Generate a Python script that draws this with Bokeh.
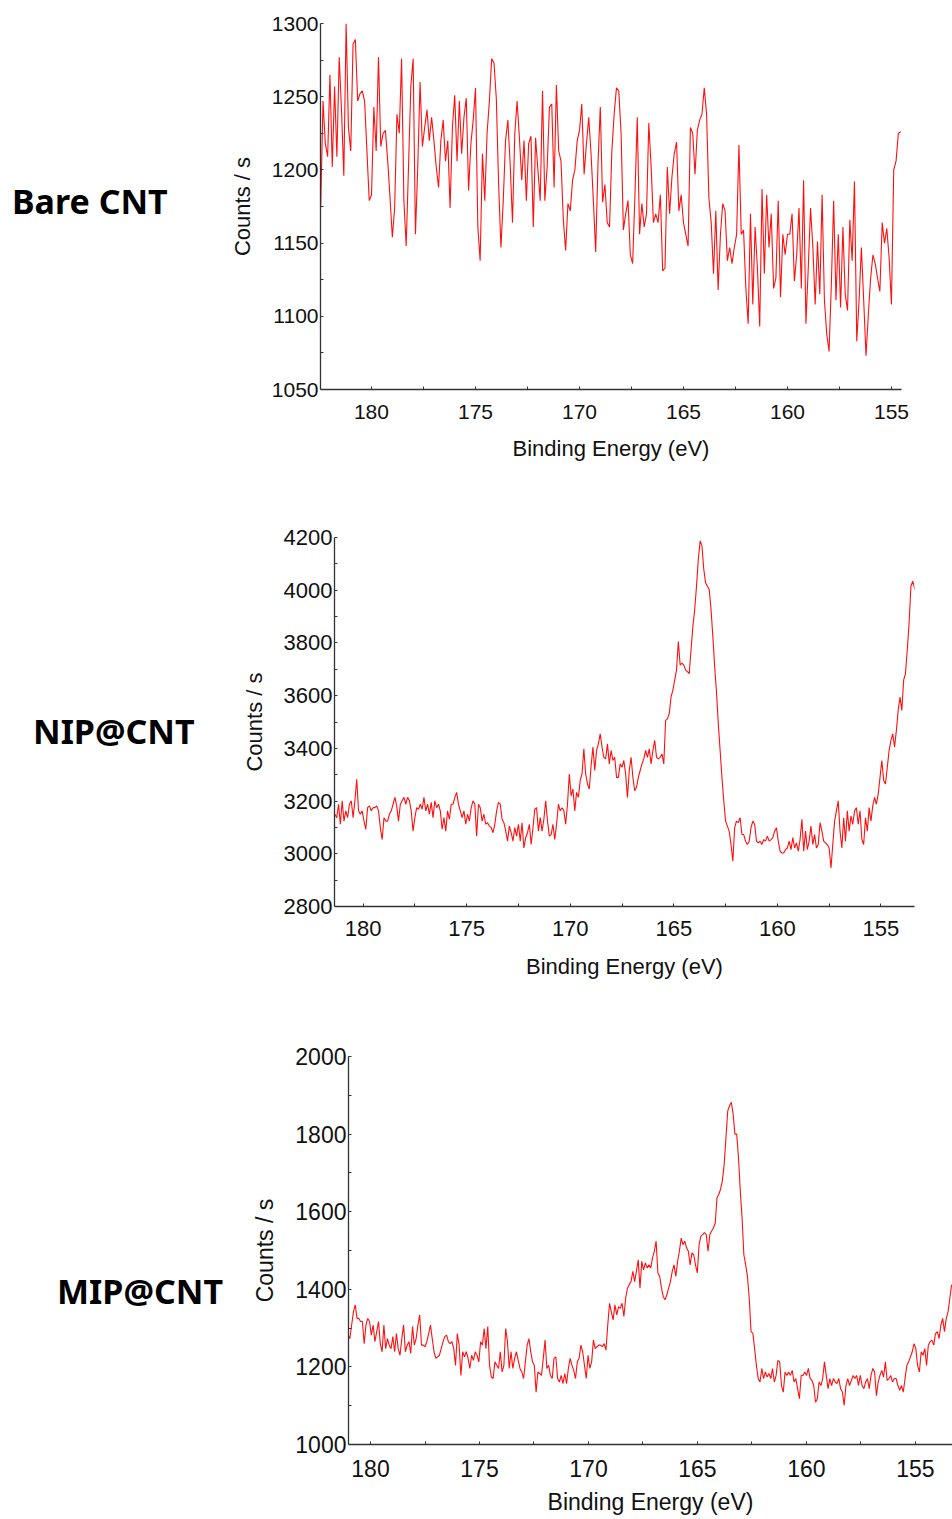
import numpy as np
from bokeh.plotting import figure
from bokeh.models import Range1d, FixedTicker, Div
from bokeh.layouts import column, row
from bokeh.embed import file_html
from bokeh.resources import INLINE

# ---------------- data ----------------
sample_labels = ["Bare CNT", "NIP@CNT", "MIP@CNT"]

bare_counts = [
    1175, 1247, 1218, 1209, 1265, 1202, 1257, 1209, 1277, 1241, 1196, 1300, 1229, 1213, 1286, 1289,
    1247, 1252, 1254, 1247, 1213, 1179, 1183, 1243, 1213, 1277, 1216, 1225, 1227, 1206, 1181, 1154,
    1174, 1238, 1225, 1276, 1179, 1148, 1202, 1257, 1276, 1156, 1202, 1260, 1216, 1229, 1241, 1220,
    1236, 1220, 1202, 1188, 1220, 1234, 1206, 1220, 1174, 1229, 1251, 1206, 1247, 1211, 1236, 1249,
    1186, 1218, 1234, 1256, 1161, 1138, 1211, 1179, 1225, 1247, 1276, 1273, 1249, 1190, 1147, 1179,
    1220, 1234, 1204, 1164, 1225, 1247, 1222, 1193, 1220, 1179, 1218, 1223, 1161, 1222, 1200, 1179,
    1254, 1179, 1202, 1243, 1245, 1188, 1258, 1213, 1206, 1166, 1145, 1177, 1172, 1193, 1200, 1220,
    1227, 1245, 1197, 1218, 1236, 1211, 1179, 1144, 1204, 1243, 1178, 1190, 1164, 1161, 1213, 1238,
    1256, 1254, 1225, 1159, 1170, 1179, 1142, 1136, 1183, 1236, 1156, 1177, 1161, 1170, 1232, 1202,
    1164, 1170, 1164, 1183, 1131, 1133, 1202, 1170, 1195, 1211, 1219, 1172, 1183, 1164, 1156, 1148,
    1229, 1225, 1197, 1227, 1234, 1238, 1256, 1238, 1181, 1164, 1129, 1172, 1118, 1156, 1177, 1172,
    1138, 1147, 1136, 1147, 1156, 1217, 1156, 1159, 1119, 1095, 1170, 1108, 1161, 1133, 1093, 1187,
    1129, 1183, 1147, 1170, 1119, 1126, 1179, 1113, 1156, 1142, 1156, 1156, 1170, 1124, 1142, 1174,
    1119, 1193, 1095, 1133, 1174, 1147, 1108, 1151, 1115, 1183, 1111, 1088, 1076, 1122, 1179, 1111,
    1156, 1106, 1161, 1115, 1104, 1166, 1138, 1192, 1083, 1111, 1147, 1111, 1073, 1101, 1126, 1142,
    1136, 1126, 1117, 1164, 1150, 1160, 1140, 1108, 1200, 1206, 1225, 1226,
]

nip_counts = [
    3150, 3137, 3188, 3112, 3201, 3124, 3163, 3137, 3188, 3201, 3137, 3201, 3283, 3163, 3150, 3163,
    3124, 3093, 3175, 3182, 3163, 3175, 3175, 3182, 3163, 3099, 3054, 3137, 3124, 3124, 3150, 3163,
    3188, 3214, 3182, 3124, 3188, 3201, 3214, 3188, 3214, 3201, 3163, 3086, 3137, 3175, 3169, 3188,
    3169, 3214, 3163, 3188, 3150, 3195, 3137, 3201, 3175, 3188, 3163, 3093, 3137, 3086, 3163, 3131,
    3188, 3188, 3214, 3233, 3188, 3163, 3137, 3163, 3112, 3150, 3124, 3175, 3201, 3188, 3067, 3188,
    3175, 3124, 3150, 3112, 3118, 3105, 3099, 3080, 3112, 3163, 3195, 3188, 3131, 3118, 3086, 3048,
    3105, 3080, 3048, 3099, 3067, 3112, 3048, 3118, 3022, 3061, 3080, 3112, 3035, 3099, 3169, 3175,
    3086, 3137, 3086, 3131, 3201, 3124, 3067, 3073, 3112, 3054, 3112, 3188, 3163, 3175, 3163, 3112,
    3188, 3303, 3220, 3246, 3163, 3233, 3214, 3278, 3303, 3398, 3303, 3265, 3246, 3335, 3405, 3316,
    3392, 3417, 3455, 3405, 3366, 3360, 3417, 3341, 3392, 3354, 3366, 3290, 3290, 3341, 3328, 3354,
    3303, 3214, 3316, 3366, 3290, 3239, 3252, 3290, 3316, 3341, 3360, 3392, 3366, 3398, 3341, 3392,
    3430, 3366, 3360, 3366, 3379, 3341, 3506, 3512, 3532, 3595, 3621, 3659, 3697, 3805, 3716, 3723,
    3716, 3697, 3691, 3684, 3774, 3863, 3926, 4015, 4117, 4187, 4168, 4079, 4028, 4015, 4003, 3926,
    3824, 3710, 3614, 3493, 3392, 3290, 3201, 3124, 3105, 3086, 3035, 2972, 3099, 3124, 3118, 3137,
    3073, 3073, 3048, 3035, 3048, 3099, 3124, 3112, 3048, 3041, 3048, 3035, 3054, 3048, 3067, 3048,
    3054, 3061, 3086, 3099, 3048, 3010, 3003, 3003, 3016, 3022, 3048, 3016, 3061, 3022, 3041, 3010,
    3054, 3131, 3010, 3086, 3016, 3048, 3105, 3035, 3073, 3022, 3035, 3118, 3086, 3048, 3041, 3035,
    3022, 2946, 3035, 3124, 3163, 3201, 3086, 3022, 3137, 3048, 3163, 3086, 3143, 3112, 3163, 3175,
    3112, 3163, 3054, 3035, 3137, 3086, 3175, 3124, 3182, 3214, 3188, 3226, 3290, 3354, 3278, 3265,
    3328, 3392, 3430, 3455, 3405, 3468, 3544, 3595, 3544, 3659, 3684, 3774, 3875, 4015, 4034, 4009,
    3990,
]

mip_counts = [
    1282, 1273, 1308, 1342, 1360, 1325, 1325, 1317, 1317, 1260, 1308, 1325, 1317, 1282, 1308, 1265,
    1291, 1317, 1260, 1239, 1308, 1247, 1273, 1256, 1247, 1278, 1239, 1286, 1247, 1230, 1273, 1308,
    1239, 1256, 1265, 1235, 1304, 1256, 1273, 1308, 1334, 1256, 1256, 1252, 1265, 1286, 1308, 1273,
    1239, 1222, 1226, 1230, 1247, 1265, 1278, 1282, 1265, 1260, 1265, 1247, 1204, 1286, 1256, 1178,
    1239, 1226, 1239, 1222, 1196, 1230, 1217, 1239, 1230, 1213, 1265, 1256, 1299, 1247, 1304, 1204,
    1174, 1170, 1213, 1204, 1196, 1239, 1187, 1204, 1299, 1265, 1196, 1239, 1196, 1222, 1239, 1217,
    1196, 1187, 1170, 1213, 1256, 1273, 1239, 1213, 1204, 1135, 1187, 1183, 1178, 1222, 1269, 1196,
    1204, 1178, 1170, 1222, 1226, 1170, 1161, 1178, 1157, 1183, 1157, 1196, 1222, 1204, 1191, 1170,
    1213, 1222, 1256, 1239, 1204, 1170, 1230, 1196, 1213, 1269, 1247, 1252, 1256, 1256, 1252, 1260,
    1243, 1308, 1364, 1342, 1321, 1360, 1334, 1355, 1351, 1364, 1330, 1377, 1403, 1412, 1420, 1446,
    1420, 1446, 1476, 1403, 1472, 1450, 1468, 1455, 1463, 1455, 1481, 1498, 1524, 1442, 1433, 1403,
    1381, 1373, 1386, 1403, 1420, 1446, 1463, 1433, 1472, 1498, 1532, 1515, 1524, 1507, 1498, 1463,
    1494, 1489, 1463, 1442, 1515, 1537, 1541, 1546, 1541, 1498, 1541, 1550, 1558, 1571, 1636, 1645,
    1658, 1680, 1722, 1791, 1860, 1873, 1882, 1852, 1800, 1800, 1739, 1653, 1584, 1489, 1463, 1433,
    1377, 1291, 1287, 1247, 1204, 1170, 1161, 1196, 1170, 1187, 1174, 1183, 1170, 1196, 1161, 1178,
    1217, 1213, 1152, 1135, 1187, 1178, 1187, 1178, 1191, 1161, 1170, 1144, 1118, 1178, 1178, 1187,
    1178, 1196, 1170, 1165, 1152, 1109, 1118, 1161, 1152, 1170, 1213, 1178, 1144, 1170, 1152, 1170,
    1161, 1157, 1170, 1144, 1135, 1101, 1152, 1170, 1152, 1165, 1178, 1170, 1178, 1152, 1178, 1152,
    1144, 1161, 1170, 1144, 1178, 1196, 1187, 1126, 1161, 1178, 1191, 1174, 1213, 1165, 1170, 1178,
    1161, 1170, 1170, 1152, 1140, 1152, 1135, 1170, 1204, 1213, 1226, 1239, 1260, 1247, 1204, 1187,
    1239, 1230, 1247, 1204, 1256, 1265, 1269, 1256, 1286, 1291, 1273, 1308, 1325, 1291, 1325, 1342,
    1377, 1412,
]

# binding-energy scan limits of each spectrum (uniform step scans)
bare_ev = np.linspace(182.44, 154.56, len(bare_counts))
nip_ev = np.linspace(181.36, 153.29, len(nip_counts))
mip_ev = np.linspace(181.03, 153.34, len(mip_counts))

x_ticks = [180, 175, 170, 165, 160, 155]
x_minor = [182.5, 177.5, 172.5, 167.5, 162.5, 157.5, 152.5]
bare_yticks = [1050, 1100, 1150, 1200, 1250, 1300]
bare_yminor = [1075, 1125, 1175, 1225, 1275]
nip_yticks = [2800, 3000, 3200, 3400, 3600, 3800, 4000, 4200]
nip_yminor = [2900, 3100, 3300, 3500, 3700, 3900, 4100]
mip_yticks = [1000, 1200, 1400, 1600, 1800, 2000]
mip_yminor = [1100, 1300, 1500, 1700, 1900]

FONT = "Liberation Sans"


def make_panel(ev, counts, xr, yr, yt, ym, width, height, mbl, mbt, mbb, mbr,
               tick_fs, lab_fs, tick_standoff, xlab_standoff):
    p = figure(width=width, height=height, output_backend="svg", toolbar_location=None,
               x_range=Range1d(*xr), y_range=Range1d(*yr),
               min_border_left=mbl, min_border_top=mbt, min_border_bottom=mbb,
               min_border_right=mbr)
    p.line(ev, counts, line_color="#ff1010", line_width=1.1)
    p.xgrid.visible = False
    p.ygrid.visible = False
    p.outline_line_color = None
    p.xaxis.ticker = FixedTicker(ticks=x_ticks, minor_ticks=x_minor)
    p.yaxis.ticker = FixedTicker(ticks=yt, minor_ticks=ym)
    p.xaxis.axis_label = "Binding Energy (eV)"
    p.yaxis.axis_label = "Counts / s"
    for ax in (p.xaxis[0], p.yaxis[0]):
        ax.axis_line_color = "#333333"
        ax.axis_line_width = 1.3
        ax.major_tick_in = 3
        ax.major_tick_out = 0
        ax.minor_tick_in = 3
        ax.minor_tick_out = 0
        ax.major_tick_line_color = "#333333"
        ax.minor_tick_line_color = "#333333"
        ax.major_label_text_font = FONT
        ax.major_label_text_font_size = f"{tick_fs}px"
        ax.major_label_text_color = "#111111"
        ax.axis_label_text_font = FONT
        ax.axis_label_text_font_size = f"{lab_fs}px"
        ax.axis_label_text_font_style = "normal"
        ax.axis_label_text_color = "#111111"
    p.xaxis.major_label_standoff = tick_standoff
    p.xaxis.axis_label_standoff = xlab_standoff
    p.yaxis.major_label_standoff = 2
    p.yaxis.axis_label_standoff = 14
    return p


def make_label(text, width, height, left, top):
    html = (f'<div style="position:relative;width:{width}px;height:{height}px;">'
            f'<div style="position:absolute;left:{left}px;top:{top}px;'
            f"font-family:'Noto Sans';font-weight:bold;font-size:34px;line-height:34px;"
            f'color:#000;white-space:nowrap;">{text}</div></div>')
    return Div(text=html, width=width, height=height, margin=(0, 0, 0, 0))


p1 = make_panel(bare_ev, bare_counts, (182.45, 154.52), (1050, 1300), bare_yticks, bare_yminor,
                721, 480, 120, 23, 91, 20, 21, 22, 15, 14)
p2 = make_panel(nip_ev, nip_counts, (181.38, 153.38), (2800, 4200), nip_yticks, nip_yminor,
                734, 520, 134, 57, 94, 20, 22, 22, 14, 15)
p3 = make_panel(mip_ev, mip_counts, (181.01, 153.30), (1000, 2000), mip_yticks, mip_yminor,
                727, 519, 123, 56, 75, 0, 23, 23, 15, 9)

d1 = make_label(sample_labels[0], 200, 480, 12, 184)
d2 = make_label(sample_labels[1], 200, 520, 33, 234)
d3 = make_label(sample_labels[2], 225, 519, 57, 274)

layout = column(row(d1, p1), row(d2, p2), row(d3, p3))

open("out.html", "w").write(file_html(layout, INLINE))
